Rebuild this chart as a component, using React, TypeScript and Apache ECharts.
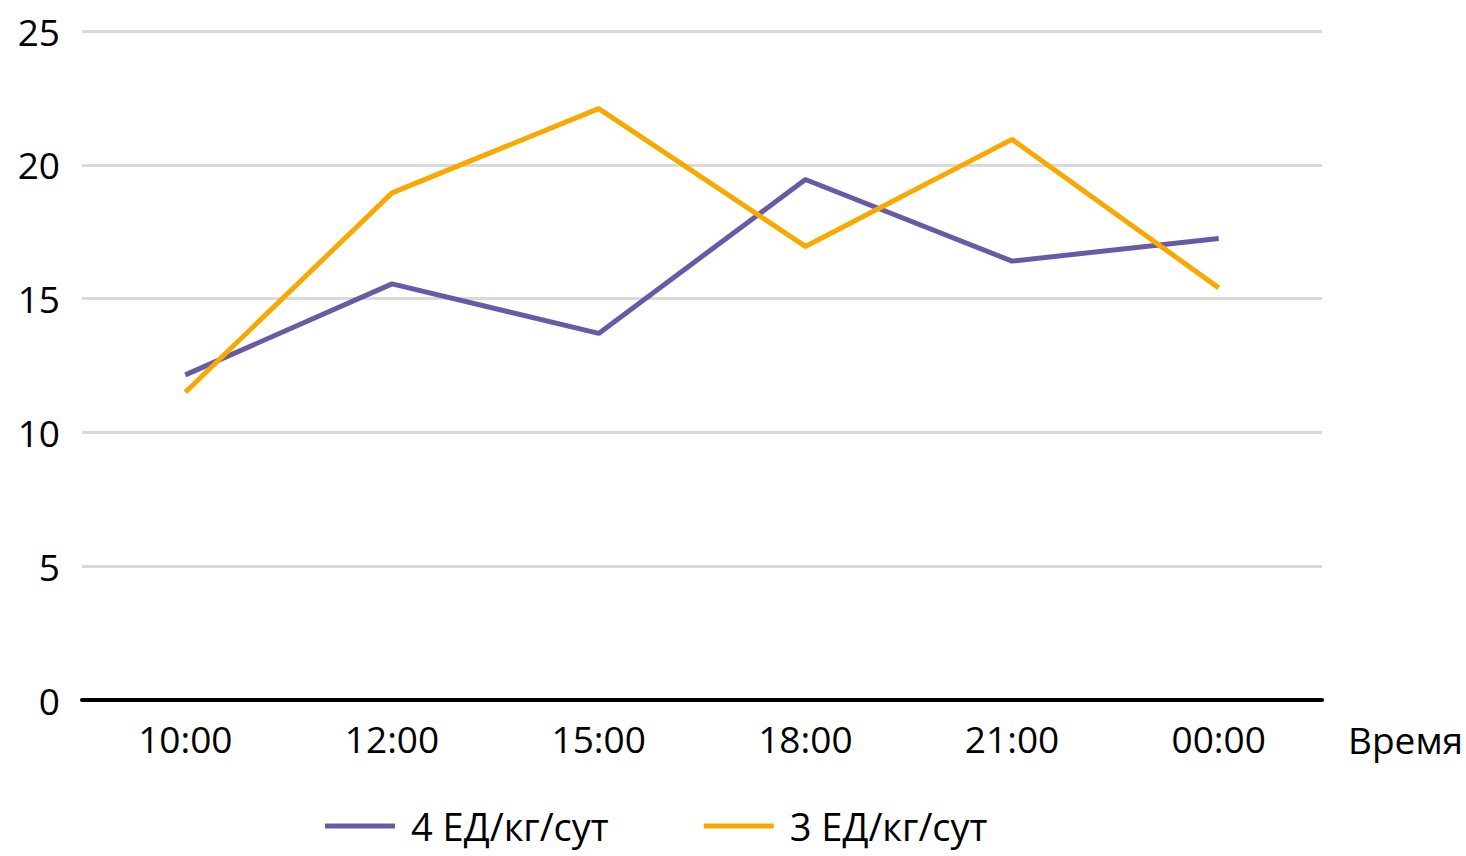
import React, { useEffect, useRef } from "react";
import * as echarts from "echarts";

const categories = ["10:00", "12:00", "15:00", "18:00", "21:00", "00:00"];
const series4 = [12.15, 15.55, 13.7, 19.45, 16.4, 17.25];
const series3 = [11.5, 18.95, 22.1, 16.95, 20.95, 15.4];
const seriesNames = ["4 ЕД/кг/сут", "3 ЕД/кг/сут"];
const xName = "Время";

const FONT = "'Open Sans', 'Noto Sans', sans-serif";

export default function App() {
  const ref = useRef<HTMLDivElement>(null);
  useEffect(() => {
    if (!ref.current) return;
    const chart = echarts.init(ref.current, undefined, { renderer: "svg" });
    chart.setOption({
      animation: false,
      backgroundColor: "#ffffff",
      textStyle: { fontFamily: FONT },
      grid: { left: 82, right: 139, top: 31, bottom: 156, containLabel: false },
      legend: {
        left: 325,
        top: 807,
        padding: 0,
        icon: "rect",
        itemWidth: 70,
        itemHeight: 5,
        itemGap: 95,
        textStyle: { fontSize: 38, color: "#000", fontFamily: FONT, padding: [0, 0, 0, 11] },
        data: seriesNames,
      },
      xAxis: {
        type: "category",
        data: categories,
        boundaryGap: true,
        name: xName,
        nameLocation: "end",
        nameGap: 26,
        nameTextStyle: {
          fontSize: 37,
          color: "#000",
          fontFamily: FONT,
          align: "left",
          verticalAlign: "top",
          lineHeight: 78,
        },
        axisLine: { show: true, lineStyle: { color: "#000", width: 4 } },
        axisTick: { show: false },
        axisLabel: { fontSize: 37, color: "#000", margin: 20, fontFamily: FONT },
      },
      yAxis: {
        type: "value",
        min: 0,
        max: 25,
        interval: 5,
        axisLine: { show: false },
        axisTick: { show: false },
        axisLabel: { fontSize: 37, color: "#000", margin: 22, fontFamily: FONT },
        splitLine: { show: true, lineStyle: { color: "#d9d9d9", width: 3 } },
      },
      series: [
        {
          name: seriesNames[0],
          type: "line",
          data: series4,
          symbol: "none",
          lineStyle: { color: "#6a5aa6", width: 5 },
          itemStyle: { color: "#6a5aa6" },
        },
        {
          name: seriesNames[1],
          type: "line",
          data: series3,
          symbol: "none",
          lineStyle: { color: "#f9a800", width: 5 },
          itemStyle: { color: "#f9a800" },
        },
      ],
    });
    return () => chart.dispose();
  }, []);
  return (
    <div
      ref={ref}
      style={{ position: "absolute", left: 0, top: 0, width: 1466, height: 856 }}
    />
  );
}
